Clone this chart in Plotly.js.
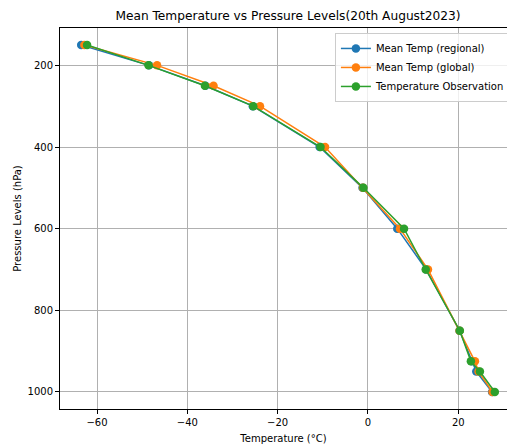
<!DOCTYPE html>
<html>
<head>
<meta charset="utf-8">
<script src="https://cdn.plot.ly/plotly-3.0.1.min.js"></script>
<style>html,body{margin:0;padding:0;background:#fff;}#chart{width:507px;height:446px;}</style>
</head>
<body>
<div id="chart"></div>
<script>
const pressureLevels = [150, 200, 250, 300, 400, 500, 600, 700, 850, 925, 950, 1000];
const meanTempRegional = [-63.5, -48.5, -36.0, -25.5, -10.7, -1.2, 6.5, 12.9, 20.3, 23.0, 24.0, 27.5];
const meanTempGlobal = [-62.8, -46.7, -34.2, -23.9, -9.5, -1.1, 7.1, 13.3, 20.3, 23.7, 24.5, 27.6];
const tempObservation = [-62.2, -48.6, -36.1, -25.4, -10.5, -1.0, 8.0, 12.8, 20.35, 22.8, 24.8, 28.1];
const seriesNames = ["Mean Temp (regional)", "Mean Temp (global)", "Temperature Observation"];
const colors = ["#1f77b4", "#ff7f0e", "#2ca02c"];
const seriesData = [meanTempRegional, meanTempGlobal, tempObservation];

const traces = seriesData.map((vals, i) => ({
  x: vals,
  y: pressureLevels,
  name: seriesNames[i],
  type: "scatter",
  mode: "lines+markers",
  line: {color: colors[i], width: 1.5},
  marker: {color: colors[i], size: 8.5}
}));

const axisCommon = {
  showline: true, linecolor: "#000", linewidth: 1, mirror: true,
  ticks: "outside", ticklen: 4, tickcolor: "#000",
  showgrid: true, gridcolor: "#b0b0b0", gridwidth: 1,
  zeroline: false,
  tickfont: {family: "DejaVu Sans", size: 10, color: "#000"}
};

const layout = {
  width: 507, height: 446,
  margin: {l: 60, r: 0, t: 28, b: 37, autoexpand: false},
  paper_bgcolor: "#fff", plot_bgcolor: "#fff",
  font: {family: "DejaVu Sans", color: "#000"},
  title: {text: "Mean Temperature vs Pressure Levels(20th August2023)", font: {family: "DejaVu Sans", size: 12.2, color: "#000"}, xref: "paper", x: 0.51, xanchor: "center", yref: "container", y: 0.964, yanchor: "middle"},
  xaxis: Object.assign({}, axisCommon, {
    range: [-68.2, 30.8],
    tickvals: [-60, -40, -20, 0, 20],
    ticktext: ["\u221260", "\u221240", "\u221220", "0", "20"],
    title: {text: "Temperature (°C)", font: {family: "DejaVu Sans", size: 10, color: "#000"}, standoff: 7}
  }),
  yaxis: Object.assign({}, axisCommon, {
    range: [1041.7, 108.5],
    tickvals: [200, 400, 600, 800, 1000],
    title: {text: "Pressure Levels (hPa)", font: {family: "DejaVu Sans", size: 10, color: "#000"}, standoff: 4}
  }),
  legend: {
    x: 0.615, xanchor: "left", y: 0.987, yanchor: "top",
    bgcolor: "rgba(255,255,255,0.8)", bordercolor: "#cccccc", borderwidth: 1,
    font: {family: "DejaVu Sans", size: 10, color: "#000"},
    itemwidth: 30,
    tracegroupgap: 0
  },
  showlegend: true
};

Plotly.newPlot("chart", traces, layout, {displayModeBar: false, staticPlot: true});
</script>
</body>
</html>
